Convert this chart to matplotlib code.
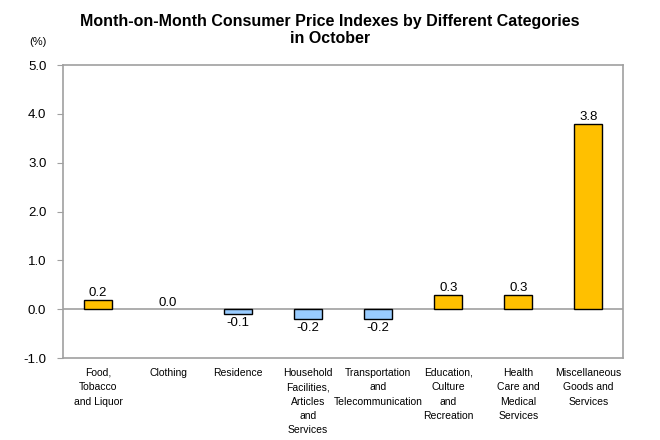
import matplotlib.pyplot as plt
import numpy as np

plt.rcParams["font.family"] = ["Liberation Sans", "DejaVu Sans"]

categories = [
    "Food,\nTobacco\nand Liquor",
    "Clothing",
    "Residence",
    "Household\nFacilities,\nArticles\nand\nServices",
    "Transportation\nand\nTelecommunication",
    "Education,\nCulture\nand\nRecreation",
    "Health\nCare and\nMedical\nServices",
    "Miscellaneous\nGoods and\nServices",
]
values = [0.2, 0.0, -0.1, -0.2, -0.2, 0.3, 0.3, 3.8]
y_ticks = [-1.0, 0.0, 1.0, 2.0, 3.0, 4.0, 5.0]

POS = "#FFC000"
NEG = "#99CCFF"
GREY = "#A0A0A0"

fig = plt.figure(figsize=(6.6, 4.4), dpi=100)
ax = fig.add_axes([0.0955, 0.186, 0.849, 0.666])

x = np.arange(len(values))
colors = [POS if v >= 0 else NEG for v in values]
edges = ["black" if v != 0 else "none" for v in values]
ax.bar(x, values, width=0.4, color=colors, edgecolor=edges, linewidth=1.0, zorder=3)
ax.axhline(0, color=GREY, linewidth=1.2, zorder=2)

for xi, v in zip(x, values):
    if v >= 0:
        ax.annotate(f"{v:.1f}", (xi, v), xytext=(0, 0.5), textcoords="offset points",
                    ha="center", va="bottom", fontsize=9.5)
    else:
        ax.annotate(f"{v:.1f}", (xi, v), xytext=(0, -2), textcoords="offset points",
                    ha="center", va="top", fontsize=9.5)

ax.set_xlim(-0.5, len(values) - 0.5)
ax.set_ylim(-1.0, 5.0)
ax.set_yticks(y_ticks)
ax.set_yticklabels([f"{t:.1f}" for t in y_ticks], fontsize=9.5)
ax.tick_params(axis="y", length=4, color=GREY, pad=8)
ax.set_xticks(x)
ax.set_xticklabels(categories, fontsize=7.5, linespacing=1.55, va="top")
ax.tick_params(axis="x", length=0, pad=7)
for s in ax.spines.values():
    s.set_color(GREY)
    s.set_linewidth(1.2)

fig.text(0.5, 0.968, "Month-on-Month Consumer Price Indexes by Different Categories\nin October",
         ha="center", va="top", fontsize=11.5, fontweight="bold", linespacing=1.15)
fig.text(0.045, 0.905, "(%)", ha="left", va="center", fontsize=8)

fig.savefig("out.png", dpi=100)
